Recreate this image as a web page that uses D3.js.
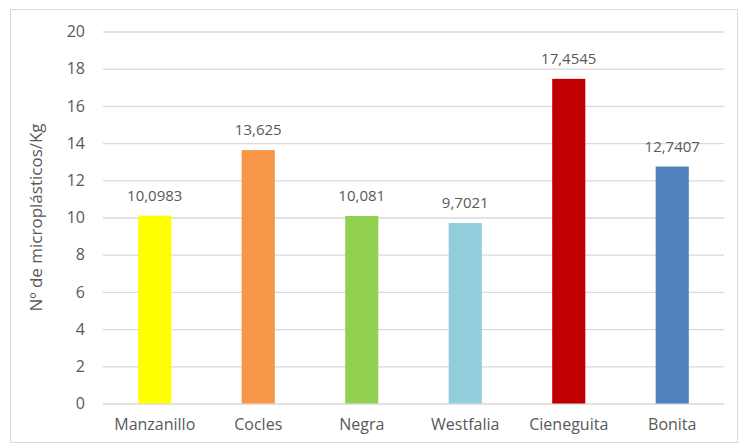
<!DOCTYPE html>
<html><head><meta charset="utf-8">
<script src="https://cdn.jsdelivr.net/npm/d3@7"></script>
<style>body{margin:0;background:#fff}svg{display:block}text{font-family:"Open Sans",sans-serif;fill:#595959}</style>
</head><body>
<svg id="c" width="739" height="444"></svg>
<script>
const categories = ["Manzanillo","Cocles","Negra","Westfalia","Cieneguita","Bonita"];
const values = [10.0983,13.625,10.081,9.7021,17.4545,12.7407];
const valueLabels = ["10,0983","13,625","10,081","9,7021","17,4545","12,7407"];
const colors = ["#FFFF00","#F79646","#92D050","#92CDDC","#C00000","#4F81BD"];
const yTicks = [0,2,4,6,8,10,12,14,16,18,20];
const yTitle = "Nº de microplásticos/Kg";

const svg = d3.select("#c");
svg.append("rect").attr("x",10.5).attr("y",9.5).attr("width",727).attr("height",433)
  .attr("fill","#fff").attr("stroke","#d9d9d9");

const L=103, R=724, T=31.5, B=403.5;
const x = d3.scaleBand().domain(categories).range([L,R]).paddingInner(0.68).paddingOuter(0.34);
const y = d3.scaleLinear().domain([0,20]).range([B,T]);

const gy = svg.append("g").attr("transform",`translate(${L},0)`)
  .call(d3.axisLeft(y).tickValues(yTicks).tickSize(-(R-L)).tickPadding(18).tickFormat(d3.format("d")));
gy.select(".domain").remove();
gy.selectAll(".tick line").attr("stroke","#d9d9d9").attr("stroke-width",1.3);
gy.selectAll(".tick text").attr("font-size",16).attr("fill","#595959").style("font-family","'Open Sans',sans-serif");

const gx = svg.append("g").attr("transform",`translate(0,${B})`)
  .call(d3.axisBottom(x).tickSize(0).tickPadding(15));
gx.select(".domain").remove();
gx.selectAll(".tick text").attr("font-size",16).attr("fill","#595959").style("font-family","'Open Sans',sans-serif");

svg.selectAll("rect.bar").data(values).enter().append("rect").attr("class","bar")
  .attr("x",(d,i)=>x(categories[i])).attr("width",x.bandwidth())
  .attr("y",d=>y(d)).attr("height",d=>B-y(d)).attr("fill",(d,i)=>colors[i]);

svg.selectAll("text.val").data(values).enter().append("text").attr("class","val")
  .attr("x",(d,i)=>x(categories[i])+x.bandwidth()/2).attr("y",d=>y(d)-15)
  .attr("text-anchor","middle").attr("font-size",15).text((d,i)=>valueLabels[i]);

svg.append("text").attr("transform",`translate(42,${(T+B)/2}) rotate(-90)`)
  .attr("text-anchor","middle").attr("font-size",17).text(yTitle);
</script>
</body></html>
